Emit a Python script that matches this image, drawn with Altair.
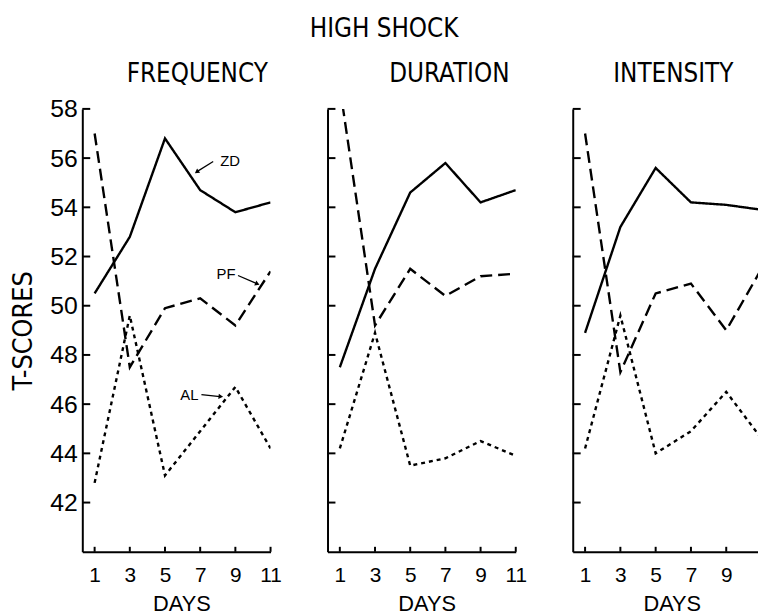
import altair as alt
import pandas as pd

# ---------------- data ----------------
days = [1, 3, 5, 7, 9, 11]
series_names = ["ZD", "PF", "AL"]
panel_titles = ["FREQUENCY", "DURATION", "INTENSITY"]

freq_zd = [50.5, 52.8, 56.8, 54.7, 53.8, 54.2]
freq_pf = [57.0, 47.5, 49.9, 50.3, 49.2, 51.4]
freq_al = [42.8, 49.6, 43.1, 44.9, 46.7, 44.2]

dur_zd = [47.5, 51.5, 54.6, 55.8, 54.2, 54.7]
dur_pf = [58.9, 49.2, 51.5, 50.4, 51.2, 51.3]
dur_al = [44.2, 48.9, 43.5, 43.8, 44.5, 43.9]

int_zd = [48.9, 53.2, 55.6, 54.2, 54.1, 53.9]
int_pf = [57.0, 47.3, 50.5, 50.9, 49.0, 51.5]
int_al = [44.2, 49.6, 44.0, 44.9, 46.5, 44.6]

y_tick_values = [42, 44, 46, 48, 50, 52, 54, 56, 58]

# annotations (panel 1), in data units
ann_labels = ["ZD", "PF", "AL"]
ann_text_day = [8.70, 8.47, 6.39]
ann_text_score = [55.90, 51.27, 46.39]
ann_tail_day = [7.74, 9.15, 7.07]
ann_tail_score = [55.86, 51.23, 46.39]
ann_head_day = [6.84, 10.21, 8.13]
ann_head_score = [55.46, 50.90, 46.31]
ann_head_angle = [235, 113, 96]

# ---------------- style ----------------
SANS = "Liberation Sans, Arial, DejaVu Sans"
NARROW = "Liberation Sans Narrow, DejaVu Sans Condensed, Liberation Sans"
PLOT_H = 447
DASHES = [[1, 0], [12, 6], [4, 4]]


def make_panel(title, zd, pf, al, x_domain, x_values, width, show_y, title_dx, title_offset,
               annotate=False):
    rows = []
    for name, vals in zip(series_names, [zd, pf, al]):
        for d, v in zip(days, vals):
            rows.append({"day": d, "score": v, "series": name})
    df = pd.DataFrame(rows)

    x_axis = alt.Axis(values=x_values, ticks=False, grid=False, labelFont=SANS,
                      labelFontSize=21, labelPadding=13, labelColor="black",
                      labelFlush=False, title="DAYS", titleFont=SANS, titleFontSize=22,
                      titleFontWeight="normal", titleColor="black", titlePadding=8,
                      titleX=100, domainColor="black", domainWidth=2)
    if show_y:
        y_axis = alt.Axis(values=y_tick_values, ticks=False,
                          labelFont=SANS, labelFontSize=25, labelPadding=5, labelColor="black",
                          title="T-SCORES", titleFont=NARROW, titleFontSize=27,
                          titleFontWeight="normal", titleColor="black", titlePadding=12,
                          grid=False, domainColor="black", domainWidth=2)
    else:
        y_axis = alt.Axis(values=y_tick_values, ticks=False, labels=False, title=None,
                          grid=False, domainColor="black", domainWidth=2)

    xs = alt.Scale(domain=x_domain, nice=False, zero=False)
    ys = alt.Scale(domain=[40, 58], nice=False, zero=False)
    x_enc = alt.X("day:Q", scale=xs, axis=x_axis)
    y_enc = alt.Y("score:Q", scale=ys, axis=y_axis)

    lines = alt.Chart(df).mark_line(color="black", strokeWidth=2.4, clip=True).encode(
        x=x_enc, y=y_enc,
        strokeDash=alt.StrokeDash("series:N", scale=alt.Scale(domain=series_names, range=DASHES),
                                  legend=None),
    )
    xt = alt.Chart(pd.DataFrame({"day": x_values})).mark_rule(color="black", strokeWidth=2).encode(
        x=x_enc, y=alt.value(PLOT_H), y2=alt.value(PLOT_H - 5)
    )
    yt = alt.Chart(pd.DataFrame({"score": y_tick_values})).mark_rule(
        color="black", strokeWidth=2).encode(y=y_enc, x=alt.value(0), x2=alt.value(8))
    layers = [lines, xt, yt]
    if annotate:
        adf = pd.DataFrame({
            "label": ann_labels, "day": ann_text_day, "score": ann_text_score,
            "tday": ann_tail_day, "tscore": ann_tail_score,
            "hday": ann_head_day, "hscore": ann_head_score, "angle": ann_head_angle,
        })
        txt = alt.Chart(adf).mark_text(font=SANS, fontSize=15, color="black").encode(
            x=x_enc, y=y_enc, text="label:N")
        shaft = alt.Chart(adf).mark_rule(color="black", strokeWidth=1.3).encode(
            x=alt.X("tday:Q", scale=xs, axis=x_axis),
            y=alt.Y("tscore:Q", scale=ys, axis=y_axis),
            x2="hday:Q", y2="hscore:Q")
        head = alt.Chart(adf).mark_point(shape="triangle", filled=True, color="black",
                                          size=28, opacity=1).encode(
            x=alt.X("hday:Q", scale=xs, axis=x_axis),
            y=alt.Y("hscore:Q", scale=ys, axis=y_axis),
            angle=alt.Angle("angle:Q", scale=None))
        layers += [shaft, head, txt]

    return alt.layer(*layers).properties(
        width=width, height=PLOT_H,
        title=alt.TitleParams(title, font=NARROW, fontSize=26, fontWeight="normal",
                              color="black", dx=title_dx, offset=title_offset),
    )


p1 = make_panel(panel_titles[0], freq_zd, freq_pf, freq_al, [0.3, 11], days, 190, True, 21, 10,
                annotate=True)
p2 = make_panel(panel_titles[1], dur_zd, dur_pf, dur_al, [0.3, 11], days, 190, False, 28, 21)
p3 = make_panel(panel_titles[2], int_zd, int_pf, int_al, [0.3, 10.8], [1, 3, 5, 7, 9], 187,
                False, 8, 21)

chart = alt.hconcat(p1, p2, p3, spacing=57.5, bounds="flush").properties(
    title=alt.TitleParams("HIGH SHOCK", font=NARROW, fontSize=26, fontWeight="normal",
                          color="black", anchor="middle", offset=20),
    padding={"left": 2, "top": 5, "right": 0, "bottom": 0},
    background="white",
).configure_view(strokeWidth=0, stroke="transparent")

chart.save("out.html", embed_options={"renderer": "svg", "actions": False})
